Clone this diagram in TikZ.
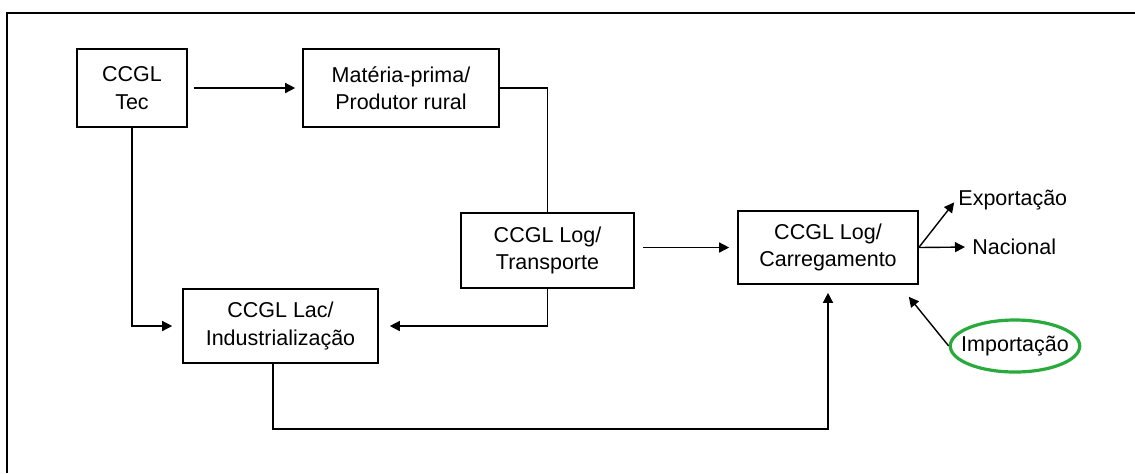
\documentclass[tikz,border=0pt]{standalone}
\usepackage{fontspec}
\setmainfont{Liberation Sans}
\usepackage{xcolor}
\usetikzlibrary{arrows.meta,positioning,shapes.geometric,calc}
\definecolor{ccgreen}{RGB}{40,170,60}
\tikzset{
ccbox/.style={rectangle,draw,line width=0.8pt,align=center,inner sep=2pt},
ccout/.style={inner sep=1pt},
ccimport/.style={ellipse,draw=ccgreen,line width=1.6pt,inner xsep=-4pt,inner ysep=0pt,minimum width=64pt,minimum height=26pt},
ccarr/.style={-{Triangle[length=5pt,width=5pt]},line width=0.7pt},
ccframe/.style={line width=1pt}
}

\begin{document}
\begin{tikzpicture}[
x=0.5pt,
y=-0.5pt,
every node/.style={font=\fontsize{10.75}{13.8}\selectfont}
]
\useasboundingbox (0,0) rectangle (1135,473);
\draw[ccframe] (7,473) |- (1135,13);
\node[ccbox,minimum width=55pt,minimum height=39pt]
  (tec) at (132,88) {CCGL\\Tec};
\node[ccbox,minimum width=98pt,minimum height=39pt]
  (materia) at (401,88) {Matéria-prima/\\Produtor rural};
\node[ccbox,minimum width=86.5pt,minimum height=37.5pt]
  (transp) at (547.5,250.5) {CCGL Log/\\Transporte};
\node[ccbox,minimum width=90pt,minimum height=36.5pt]
  (carreg) at (828,247.5) {CCGL Log/\\Carregamento};
\node[ccbox,minimum width=97.5pt,minimum height=37pt]
  (lac) at (280.5,326) {CCGL Lac/\\Industrialização};
\node[ccout,anchor=west] (export) at (956,200) {Exportação};
\node[ccout,anchor=west] (nacional) at (970,247) {Nacional};
\node[ccimport] (import) at (1015,346) {Importação};
\coordinate (low) at (273,429);
\coordinate (imptip) at ([xshift=-5pt,yshift=-6pt]carreg.south east);
\draw[ccarr,shorten <=3pt,shorten >=3.5pt] (tec.east) -- (materia.west);
\draw[line width=0.7pt] (materia.east) -| (transp.north);
\draw[ccarr,shorten <=4pt,shorten >=4pt] (transp.east |- carreg.west) -- (carreg.west);
\draw[ccarr,shorten >=5.5pt] (transp.south) |- (lac.east);
\draw[ccarr,shorten >=5pt] (tec.south) |- (lac.west);
\draw[ccarr,shorten >=4pt] (lac.south -| low) |- (low -| carreg.south) -- (carreg.south);
\draw[ccarr,shorten >=1.5pt] (carreg.east) -- (export.west);
\draw[ccarr,shorten >=2.5pt] (carreg.east) -- (nacional.west);
\draw[ccarr] (import.west) -- (imptip);
\end{tikzpicture}
\end{document}
